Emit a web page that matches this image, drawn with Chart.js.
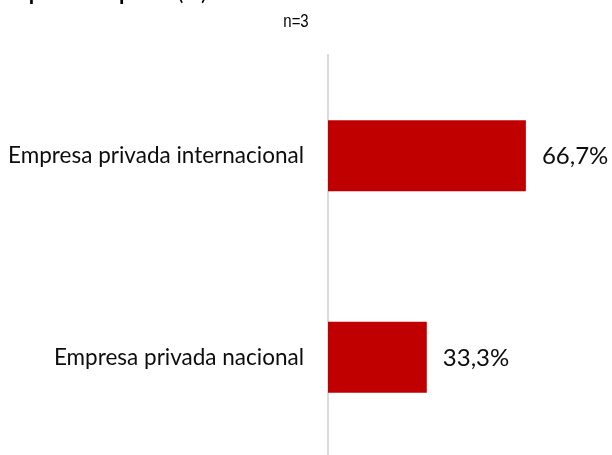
<!DOCTYPE html>
<html>
<head>
<meta charset="utf-8">
<script src="https://cdn.jsdelivr.net/npm/chart.js@4.4.1/dist/chart.umd.min.js"></script>
<style>
  html, body { margin: 0; padding: 0; background: #fff; overflow: hidden; }
  canvas { display: block; }
</style>
</head>
<body>
<canvas id="chart" width="612" height="470"></canvas>
<script>
// chart data
const categories = ['Empresa privada internacional', 'Empresa privada nacional'];
const percentValues = [66.7, 33.3];
const chartTitle = 'Tipo de empresa';
const titleUnit = ' (%)';
const sampleLabel = 'n=3';

const labelFont = 'Lato, "Open Sans", sans-serif';

// draws title (cut off at top) and the n= label
const extraText = {
    id: 'extraText',
    afterDraw(chart) {
        const ctx = chart.ctx;
        ctx.save();
        ctx.fillStyle = '#000';
        ctx.textBaseline = 'alphabetic';
        ctx.textAlign = 'left';
        ctx.font = 'bold 22px ' + labelFont;
        ctx.fillText(chartTitle, 10, 0);
        const w = ctx.measureText(chartTitle).width;
        ctx.font = '22px ' + labelFont;
        ctx.fillText(titleUnit, 10 + w, 0);
        ctx.restore();

        // narrow n= label
        ctx.save();
        ctx.fillStyle = '#000';
        ctx.font = '18px "Liberation Sans", Arial, sans-serif';
        ctx.textAlign = 'center';
        ctx.textBaseline = 'alphabetic';
        ctx.translate(296, 27);
        ctx.scale(0.83, 1);
        ctx.fillText(sampleLabel, 0, 0);
        ctx.restore();
    }
};

// value labels to the right of each bar
const valueLabels = {
    id: 'valueLabels',
    afterDatasetsDraw(chart) {
        const ctx = chart.ctx;
        const meta = chart.getDatasetMeta(0);
        ctx.save();
        ctx.fillStyle = '#0d0d0d';
        ctx.font = '24px ' + labelFont;
        ctx.textAlign = 'left';
        ctx.textBaseline = 'middle';
        meta.data.forEach(function(bar, i) {
            const txt = percentValues[i].toFixed(1).replace('.', ',') + '%';
            ctx.fillText(txt, bar.x + 16, bar.y + 1);
        });
        ctx.restore();
    }
};

const ctx = document.getElementById('chart').getContext('2d');
new Chart(ctx, {
    type: 'bar',
    data: {
        labels: categories,
        datasets: [{
            data: percentValues,
            backgroundColor: '#C00000',
            borderWidth: 0,
            categoryPercentage: 1,
            barPercentage: 0.353
        }]
    },
    options: {
        indexAxis: 'y',
        responsive: false,
        animation: false,
        layout: {
            padding: { top: 55, bottom: 12, left: 0, right: 17 }
        },
        plugins: {
            legend: { display: false },
            tooltip: { enabled: false }
        },
        scales: {
            x: {
                display: false,
                min: 0,
                max: 90
            },
            y: {
                grid: { display: false, drawTicks: false },
                border: { display: true, color: '#d9d9d9', width: 2 },
                ticks: {
                    color: '#0d0d0d',
                    padding: 24,
                    font: { family: labelFont, size: 22.5 }
                },
                afterFit: function(scale) {
                    scale.width = 328;
                    // labels sit mid-band, no extra room needed
                    scale.paddingTop = 0;
                    scale.paddingBottom = 0;
                }
            }
        }
    },
    plugins: [extraText, valueLabels]
});
</script>
</body>
</html>
